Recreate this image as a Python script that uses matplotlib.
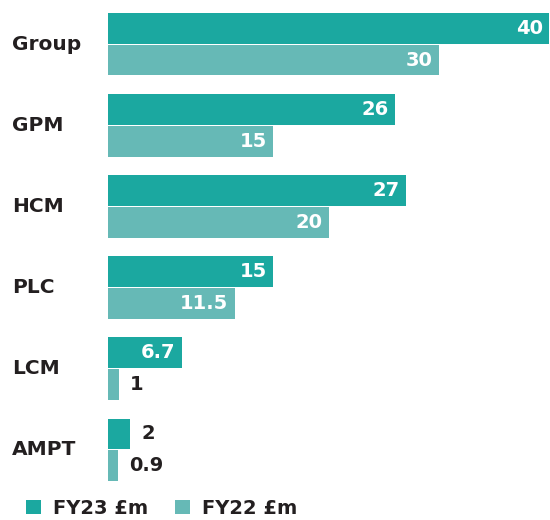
import numpy as np
import matplotlib
matplotlib.use("Agg")
import matplotlib.pyplot as plt

CATEGORIES = ["Group", "GPM", "HCM", "PLC", "LCM", "AMPT"]
FY23 = [40, 26, 27, 15, 6.7, 2]
FY22 = [30, 15, 20, 11.5, 1, 0.9]
SERIES_LABELS = ["FY23 £m", "FY22 £m"]

COL_FY23 = "#1BA8A0"
COL_FY22 = "#66B9B6"
TEXT_COL = "#231F20"

plt.rcParams["font.family"] = ["DejaVu Sans"]
FS = 14

W, H = 550, 520
fig = plt.figure(figsize=(W / 100, H / 100), dpi=100)
# axes placed in pixel terms: bars span x 108..549, y 13..481
ax = fig.add_axes([108 / W, 1 - 481 / H, 441 / W, 468 / H])

y = -np.arange(len(CATEGORIES), dtype=float)
off, h = 0.195, 0.38

b1 = ax.barh(y + off, FY23, height=h, color=COL_FY23, label=SERIES_LABELS[0])
b2 = ax.barh(y - off, FY22, height=h, color=COL_FY22, label=SERIES_LABELS[1])

ax.set_xlim(0, 40)
ax.set_ylim(y[-1] - off - h / 2, off + h / 2)
ax.axis("off")


def fmt(v):
    return f"{v:g}"


for vals, ys in [(FY23, y + off), (FY22, y - off)]:
    for v, yy in zip(vals, ys):
        if v >= 5:
            ax.annotate(fmt(v), (v, yy), xytext=(-4.5, 0), textcoords="offset points",
                        ha="right", va="center", color="white",
                        fontsize=FS, fontweight="bold")
        else:
            ax.annotate(fmt(v), (v, yy), xytext=(8, 0), textcoords="offset points",
                        ha="left", va="center", color=TEXT_COL,
                        fontsize=FS, fontweight="bold")

# category names on the left
for name, yy in zip(CATEGORIES, y):
    ax.annotate(name, (0, yy), xycoords=("figure pixels", "data"),
                xytext=(12, 0), textcoords="offset pixels",
                ha="left", va="center", color=TEXT_COL,
                fontsize=FS + 0.5, fontweight="bold")

fig.legend(handles=[b1, b2], labels=SERIES_LABELS, loc="center left",
           bbox_to_anchor=(26 / W, 1 - 508 / H), ncol=2, frameon=False,
           borderpad=0, borderaxespad=0,
           handlelength=0.77, handleheight=0.7, handletextpad=0.62,
           columnspacing=1.4, prop={"size": FS, "weight": "bold"},
           labelcolor=TEXT_COL)

fig.savefig("out.png", dpi=100)
